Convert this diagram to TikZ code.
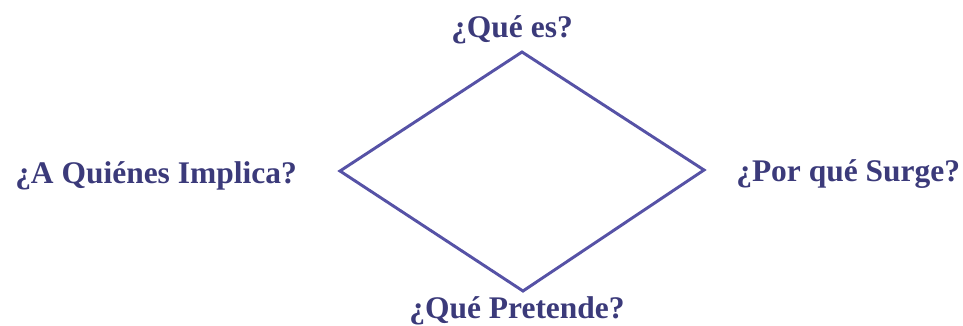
\documentclass[tikz,border=0pt]{standalone}
\usepackage{fontspec}
\setmainfont{Liberation Serif}
\definecolor{qtext}{HTML}{3B3A7A}
\definecolor{qline}{HTML}{5652A6}
\begin{document}
\begin{tikzpicture}[x=0.75pt, y=-0.75pt,
    lbl/.style={text=qtext, font=\fontsize{23.6}{28}\selectfont\bfseries, inner sep=0pt, anchor=base},
    rombo/.style={draw=qline, line width=2.2pt, line join=miter}]
  \useasboundingbox (0,0) rectangle (963,325);
  % diamond corners
  \coordinate (top) at (522,52);
  \coordinate (right) at (704,170);
  \coordinate (bot) at (523,291);
  \coordinate (left) at (340,171);
  \draw[rombo] (top) -- (right) -- (bot) -- (left) -- cycle;
  % questions
  \node[lbl] (quees) at (512,37) {¿Qué es?};
  \node[lbl, anchor=base west] (quienes) at (15,183) {¿A Quiénes Implica?};
  \node[lbl, anchor=base west] (porque) at (736,181) {¿Por qué Surge?};
  \node[lbl] (pretende) at (517,318) {¿Qué Pretende?};
\end{tikzpicture}
\end{document}
